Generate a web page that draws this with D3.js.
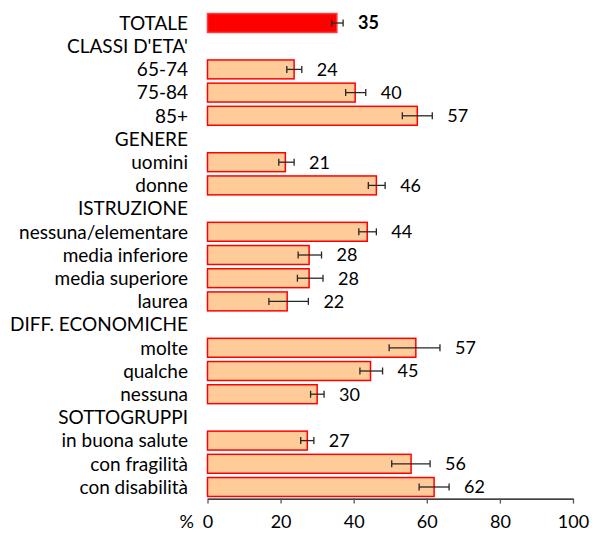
<!DOCTYPE html>
<html>
<head>
<meta charset="utf-8">
<script src="https://cdn.jsdelivr.net/npm/d3@7"></script>
<style>
  body { margin: 0; background: #fff; }
  text { font-family: Lato, "Noto Sans", sans-serif; fill: #000; }
</style>
</head>
<body>
<div id="chart"></div>
<script>
// rows of the chart, header rows have no value
const categories = ["TOTALE", "CLASSI D'ETA'", "65-74", "75-84", "85+", "GENERE", "uomini", "donne",
    "ISTRUZIONE", "nessuna/elementare", "media inferiore", "media superiore", "laurea",
    "DIFF. ECONOMICHE", "molte", "qualche", "nessuna", "SOTTOGRUPPI",
    "in buona salute", "con fragilità", "con disabilità"];
const values = [35.4, null, 23.7, 40.4, 57.4, null, 21.3, 46.2, null, 43.7, 27.8, 27.8, 21.8,
    null, 57.0, 44.6, 30.0, null, 27.3, 55.7, 62.0];
const ciLow = [34.0, null, 21.7, 37.8, 53.3, null, 19.5, 44.0, null, 41.4, 24.8, 24.6, 16.8,
    null, 49.7, 41.7, 28.2, null, 25.5, 50.4, 57.9];
const ciHigh = [37.1, null, 25.8, 43.3, 61.5, null, 23.7, 48.6, null, 46.2, 31.2, 31.6, 27.6,
    null, 63.6, 47.9, 31.9, null, 29.1, 60.9, 66.1];
const xTicks = [0, 20, 40, 60, 80, 100];

const [svgWidth, svgHeight] = [605, 534];
const margin = { left: 207.5, right: 32, top: 11.4, bottom: 35.4 };

const data = categories.map((c, i) => ({ cat: c, i: i, v: values[i], lo: ciLow[i], hi: ciHigh[i] }));

let svg = d3.select('#chart').append('svg')
    .attr('width', svgWidth)
    .attr('height', svgHeight);

let xScale = d3.scaleLinear()
    .domain([0, 100])
    .range([margin.left, svgWidth - margin.right]);
let yScale = d3.scaleBand()
    .domain(categories)
    .range([margin.top, svgHeight - margin.bottom])
    .paddingInner(0.12)
    .paddingOuter(0.06);

const bh = yScale.bandwidth();
const mid = d => yScale(d.cat) + bh / 2;

// category labels
svg.append('g').selectAll('text')
    .data(data)
    .enter().append('text')
    .attr('x', margin.left - 19.5)
    .attr('y', d => mid(d))
    .attr('dy', '0.36em')
    .attr('text-anchor', 'end')
    .style('font-size', '19px')
    .text(d => d.cat);

const rows = data.filter(d => d.v !== null);

// bars
svg.append('g').selectAll('rect')
    .data(rows)
    .enter().append('rect')
    .attr('x', xScale(0))
    .attr('y', d => yScale(d.cat) + 0.75)
    .attr('width', d => xScale(d.v) - xScale(0))
    .attr('height', bh - 1.5)
    .style('fill', d => d.i === 0 ? '#ff0000' : '#ffcc99')
    .style('stroke', d => d.i === 0 ? '#ff3b3b' : '#ff0000')
    .style('stroke-width', 1.5);

// error bars
let err = svg.append('g').selectAll('g')
    .data(rows)
    .enter().append('g')
    .style('stroke', '#262626')
    .style('stroke-width', 1.3);
err.append('line')
    .attr('x1', d => xScale(d.lo)).attr('x2', d => xScale(d.hi))
    .attr('y1', d => mid(d)).attr('y2', d => mid(d));
err.append('line')
    .attr('x1', d => xScale(d.lo)).attr('x2', d => xScale(d.lo))
    .attr('y1', d => mid(d) - 3.5).attr('y2', d => mid(d) + 3.5);
err.append('line')
    .attr('x1', d => xScale(d.hi)).attr('x2', d => xScale(d.hi))
    .attr('y1', d => mid(d) - 3.5).attr('y2', d => mid(d) + 3.5);

// value labels
svg.append('g').selectAll('text')
    .data(rows)
    .enter().append('text')
    .attr('x', d => xScale(d.hi) + 15)
    .attr('y', d => mid(d))
    .attr('dy', '0.36em')
    .style('font-size', '18px')
    .style('font-weight', d => d.i === 0 ? 'bold' : 'normal')
    .text(d => Math.round(d.v));

// x axis
const axisY = svgHeight - margin.bottom;
let xAxis = svg.append('g')
    .attr('transform', 'translate(0,' + axisY + ')')
    .call(d3.axisBottom(xScale).tickValues(xTicks).tickSize(5).tickPadding(12).tickSizeOuter(0));
xAxis.select('.domain').style('stroke', '#000').style('stroke-width', 1.3);
xAxis.selectAll('.tick line').style('stroke', '#555').style('stroke-width', 1.3);
xAxis.selectAll('.tick text')
    .style('font-family', 'Lato, "Noto Sans", sans-serif')
    .style('font-size', '18px')
    .style('fill', '#000');
xAxis.append('text')
    .attr('x', xScale(0) - 13.5)
    .attr('y', 17)
    .attr('dy', '0.71em')
    .attr('text-anchor', 'end')
    .style('font-size', '18px')
    .text('%');
</script>
</body>
</html>
